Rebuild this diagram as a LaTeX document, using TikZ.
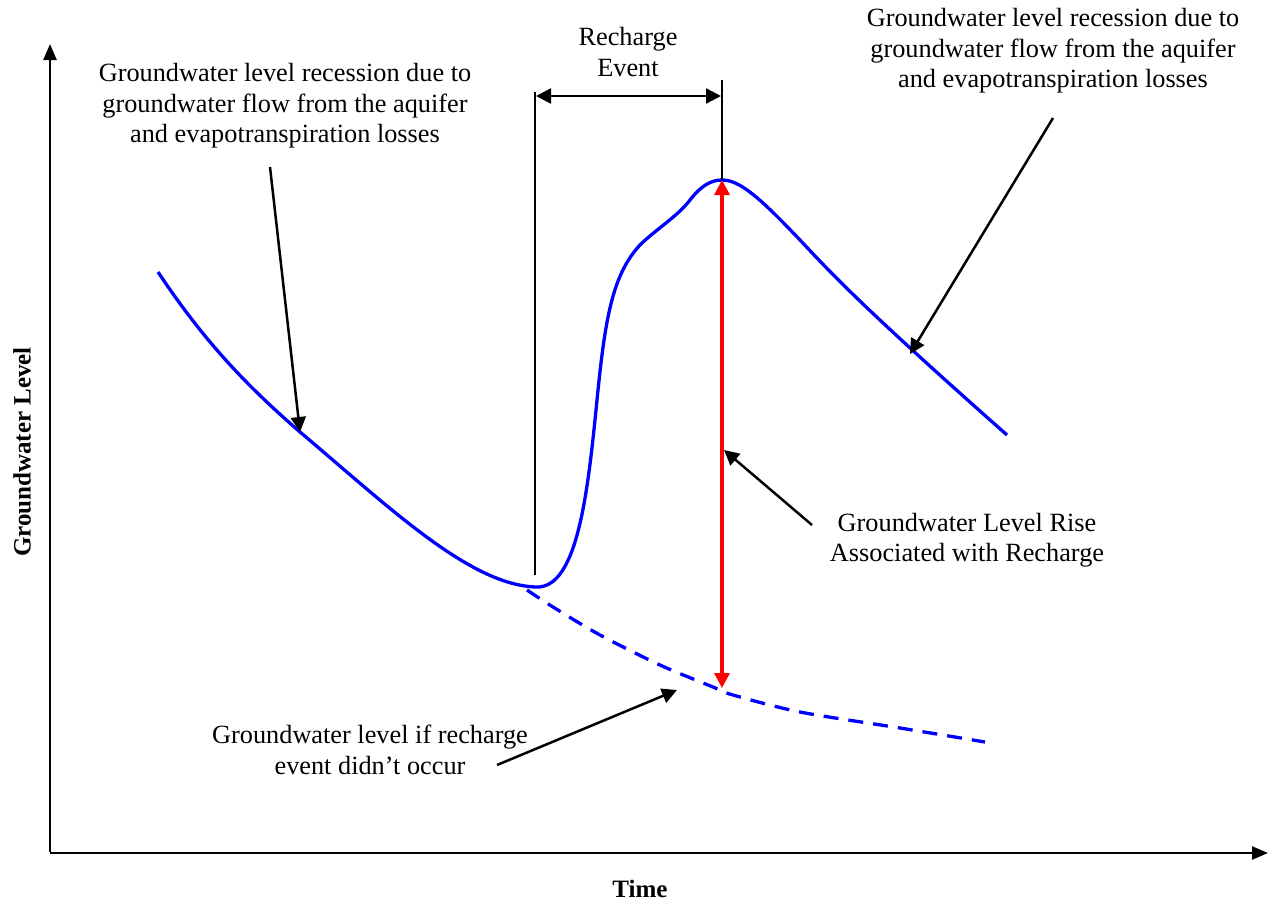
\documentclass[tikz,border=0pt]{standalone}
\usepackage{fontspec}
\setmainfont{Liberation Serif}
\usetikzlibrary{arrows.meta}
\begin{document}
\begin{tikzpicture}[x=1pt,y=-1pt,
  lbl/.style={align=center,font=\fontsize{26.3}{30.5}\selectfont,inner sep=0pt},
  tip/.tip={Triangle[length=15pt,width=15pt]},
  axis/.style={line width=2.6pt,-{Triangle[length=16pt,width=13pt]}},
  pointer/.style={line width=2.5pt,-tip},
  tick/.style={line width=2pt},
  gw/.style={blue,line width=3.3pt},
  gwdash/.style={blue,line width=3.3pt,dash pattern=on 15pt off 10pt},
  rise/.style={red,line width=3.3pt,tip-tip}]
\useasboundingbox (0,0) rectangle (1272,908);
% axes
\coordinate (O) at (50,853);
\coordinate (ytop) at (50,44);
\coordinate (xend) at (1268,853);
\draw[axis] (50,852) -- (ytop);
\draw[axis] (O) -- (xend);
\node[font=\fontsize{25}{28}\selectfont\bfseries] (tlab) at (640,889) {Time};
\node[font=\fontsize{25}{28}\selectfont\bfseries,rotate=90] (ylab) at (22,452) {Groundwater Level};
% curves
\draw[gw,line join=round] (158,272) .. controls (200,335) and (240,380) .. (300,432)
  .. controls (390,508) and (470,585) .. (536,587)
  .. controls (578,589) and (588,490) .. (597,400)
  .. controls (605,320) and (612,275) .. (640,245)
  .. controls (655,230) and (678,216) .. (690,200)
  .. controls (700,187) and (710,180) .. (722,180)
  .. controls (740,180) and (760,198) .. (800,240)
  .. controls (830,272) and (860,305) .. (1007,435);
\draw[gwdash] plot[smooth,tension=0.5] coordinates {(527,590) (553,607) (600,635) (660,665) (713,687) (733,695) (800,712) (900,728) (985,742)};
% recharge event markers
\coordinate (s) at (535,575);
\coordinate (st) at (535,92);
\coordinate (p) at (722,180);
\coordinate (pt) at (722,80);
\draw[tick] (s) -- (st);
\draw[tick] (p) -- (pt);
\coordinate (ea) at (536,96);
\coordinate (eb) at (721,96);
\draw[line width=2.5pt,tip-tip] (ea) -- (eb);
\node[lbl] (ev) at (628,52) {Recharge\\Event};
% red rise
\coordinate (rt) at (722,180);
\coordinate (rb) at (722,688);
\draw[rise] (rb) -- (rt);
% labels
\node[lbl] (l1) at (285,106) {Groundwater level recession due to\\groundwater flow from the aquifer\\and evapotranspiration losses};
\node[lbl] (l2) at (1053,51) {Groundwater level recession due to\\groundwater flow from the aquifer\\and evapotranspiration losses};
\node[lbl] (l3) at (967,540) {Groundwater Level Rise\\Associated with Recharge};
\node[lbl] (l4) at (370,750) {Groundwater level if recharge\\event didn't occur};
% pointers
\coordinate (a1s) at (270,167);
\coordinate (a1e) at (300,432);
\coordinate (a2s) at (1053,118);
\coordinate (a2e) at (910,354);
\coordinate (a3s) at (812,525);
\coordinate (a3e) at (724,450);
\coordinate (a4s) at (497,765);
\coordinate (a4e) at (677,690);
\draw[pointer] (a1s) -- (a1e);
\draw[pointer] (a2s) -- (a2e);
\draw[pointer] (a3s) -- (a3e);
\draw[pointer] (a4s) -- (a4e);
\end{tikzpicture}
\end{document}
